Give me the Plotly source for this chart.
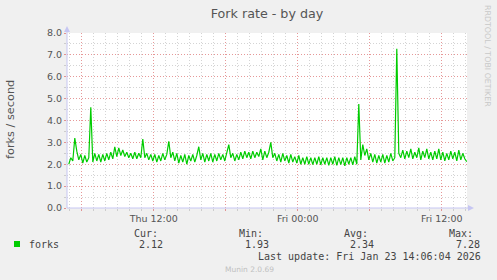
import pandas as pd
import plotly.graph_objects as go

# ---------------- data ----------------
end_time = pd.Timestamp("2026-01-23 14:06:04")
start_time = end_time - pd.Timedelta(seconds=120000)

forks = [
    2.0, 2.3, 2.15, 3.2, 2.6, 2.2, 2.45, 2.05, 2.4, 2.1,
    2.3, 4.6, 2.1, 2.5, 2.15, 2.45, 2.1, 2.45, 2.15, 2.5,
    2.2, 2.55, 2.25, 2.8, 2.35, 2.75, 2.4, 2.65, 2.35, 2.55,
    2.3, 2.5, 2.25, 2.55, 2.25, 2.5, 2.3, 3.15, 2.3, 2.5,
    2.2, 2.45, 2.15, 2.45, 2.1, 2.4, 2.15, 2.5, 2.2, 2.45,
    3.05, 2.3, 2.55, 2.15, 2.5, 2.05, 2.4, 2.1, 2.45, 2.0,
    2.4, 2.15, 2.45, 2.1, 2.4, 2.8, 2.2, 2.5, 2.1, 2.45,
    2.15, 2.5, 2.1, 2.45, 2.15, 2.5, 2.2, 2.45, 2.15, 2.5,
    2.9, 2.3, 2.5, 2.15, 2.45, 2.2, 2.55, 2.25, 2.6, 2.3,
    2.55, 2.25, 2.6, 2.3, 2.55, 2.35, 2.7, 2.2, 2.6, 2.3,
    2.55, 3.0, 2.3, 2.5, 2.15, 2.45, 2.1, 2.5, 2.15, 2.4,
    2.05, 2.45, 2.1, 2.35, 2.05, 2.4, 2.0, 2.3, 2.0, 2.35,
    2.0, 2.3, 1.98, 2.3, 2.0, 2.35, 1.97, 2.3, 2.0, 2.3,
    1.95, 2.3, 2.0, 2.35, 1.95, 2.3, 1.98, 2.3, 1.93, 2.3,
    2.0, 2.3, 1.97, 2.35, 2.0, 4.75, 2.2, 2.9, 2.4, 2.7,
    2.2, 2.5, 2.1, 2.45, 2.05, 2.4, 2.1, 2.45, 2.05, 2.4,
    2.1, 2.5, 2.15, 2.3, 7.28, 2.5, 2.3, 2.65, 2.25, 2.6,
    2.3, 2.7, 2.25, 2.55, 2.3, 2.75, 2.2, 2.6, 2.3, 2.7,
    2.25, 2.55, 2.2, 2.6, 2.25, 2.7, 2.2, 2.55, 2.15, 2.5,
    2.2, 2.6, 2.25, 2.55, 2.15, 2.65, 2.2, 2.5, 2.25, 2.12,
]
times = pd.date_range(end=pd.Timestamp("2026-01-23 14:05:00"), periods=len(forks), freq="10min")

x_tick_vals = pd.date_range("2026-01-22 06:00", "2026-01-23 12:00", freq="6h")
x_tick_text = ["", "Thu 12:00", "", "Fri 00:00", "", "Fri 12:00"]
y_tick_vals = [0, 1, 2, 3, 4, 5, 6, 7, 8]
y_tick_text = ["0.0", "1.0", "2.0", "3.0", "4.0", "5.0", "6.0", "7.0", "8.0"]

series_name = "forks"
stat_labels = ["Cur:", "Min:", "Avg:", "Max:"]
stat_values = ["2.12", "1.93", "2.34", "7.28"]
last_update = "Last update: Fri Jan 23 14:06:04 2026"

# ---------------- layout helpers ----------------
W, H = 497, 280
L, R, T, B = 67, 467, 33, 208


def px(xp):
    return (xp - L) / (R - L)


def py(yp):
    return (B - yp) / (B - T)


MAJOR = "rgba(255,70,70,0.42)"
MINOR = "rgba(160,160,160,0.45)"
AXIS = "#c6c6f2"
TXT = "#555555"

fig = go.Figure()
fig.add_trace(go.Scatter(x=times, y=forks, mode="lines",
                         line=dict(color="#00cc00", width=1.2), showlegend=False))

fig.update_layout(
    width=W, height=H,
    margin=dict(l=L, r=W - R, t=T, b=H - B),
    paper_bgcolor="#f0f0f0", plot_bgcolor="#ffffff",
    showlegend=False,
    font=dict(family="DejaVu Sans", color=TXT, size=9.5),
    title=dict(text="Fork rate - by day", x=0.5, xref="paper", xanchor="center",
               y=1 - 14 / H, yanchor="middle", font=dict(size=12.7, color=TXT)),
)

fig.update_xaxes(
    range=[start_time, end_time], type="date",
    tickmode="array", tickvals=x_tick_vals, ticktext=x_tick_text,
    showgrid=True, gridcolor=MAJOR, griddash="1px,2px", gridwidth=1,
    minor=dict(dtick=3600000, showgrid=True, gridcolor=MINOR, griddash="1px,2px",
               ticks="outside", ticklen=2, tickcolor=MINOR),
    ticks="outside", ticklen=2, tickcolor=MAJOR,
    showline=False, zeroline=False,
    tickfont=dict(size=9.5, color=TXT),
)
fig.update_yaxes(
    range=[0, 8], tickmode="array", tickvals=y_tick_vals, ticktext=y_tick_text,
    showgrid=True, gridcolor=MAJOR, griddash="1px,2px", gridwidth=1,
    minor=dict(dtick=0.5, showgrid=True, gridcolor=MINOR, griddash="1px,2px",
               ticks="outside", ticklen=2, tickcolor=MINOR),
    ticks="outside", ticklen=2, tickcolor=MAJOR,
    showline=False, zeroline=False,
    tickfont=dict(size=9.5, color=TXT),
)

shapes = []
# axis lines with arrows
shapes.append(dict(type="line", xref="paper", yref="paper", x0=0, x1=0, y0=0, y1=py(29),
                   line=dict(color=AXIS, width=1)))
shapes.append(dict(type="line", xref="paper", yref="paper", x0=0, x1=px(471), y0=0, y1=0,
                   line=dict(color=AXIS, width=1)))
shapes.append(dict(type="path", xref="paper", yref="paper",
                   path=f"M {px(67)} {py(26)} L {px(64)} {py(32)} L {px(70)} {py(32)} Z",
                   fillcolor=AXIS, line=dict(width=0)))
shapes.append(dict(type="path", xref="paper", yref="paper",
                   path=f"M {px(474)} {py(208)} L {px(468)} {py(205)} L {px(468)} {py(211)} Z",
                   fillcolor=AXIS, line=dict(width=0)))
# legend swatch
shapes.append(dict(type="rect", xref="paper", yref="paper",
                   x0=px(14), x1=px(20), y0=py(247), y1=py(241),
                   fillcolor="#00cc00", line=dict(width=0)))
fig.update_layout(shapes=shapes)

MONO = "DejaVu Sans Mono"
ann = []
ann.append(dict(text="forks / second", x=px(10), y=py(120), xref="paper", yref="paper",
                textangle=-90, showarrow=False, xanchor="center", yanchor="middle",
                font=dict(size=11.3, color=TXT)))
ann.append(dict(text="RRDTOOL / TOBI OETIKER", x=px(488), y=py(56), xref="paper", yref="paper",
                textangle=90, showarrow=False, xanchor="center", yanchor="middle",
                font=dict(size=7.9, color="#c8c8c8")))
ann.append(dict(text=series_name, x=px(27), y=py(244.5), xref="paper", yref="paper",
                showarrow=False, xanchor="left", yanchor="middle",
                font=dict(family=MONO, size=10, color="#444444")))
label_x = [131.5, 236.5, 342, 447]
value_x = [137, 243, 348, 454]
for lx, vx, lab, val in zip(label_x, value_x, stat_labels, stat_values):
    ann.append(dict(text=lab, x=px(lx), y=py(233), xref="paper", yref="paper",
                    showarrow=False, xanchor="left", yanchor="middle",
                    font=dict(family=MONO, size=10, color="#444444")))
    ann.append(dict(text=val, x=px(vx), y=py(244.5), xref="paper", yref="paper",
                    showarrow=False, xanchor="left", yanchor="middle",
                    font=dict(family=MONO, size=10, color="#444444")))
ann.append(dict(text=last_update, x=px(483), y=py(256), xref="paper", yref="paper",
                showarrow=False, xanchor="right", yanchor="middle",
                font=dict(family=MONO, size=10, color="#444444")))
ann.append(dict(text="Munin 2.0.69", x=px(249), y=py(269), xref="paper", yref="paper",
                showarrow=False, xanchor="center", yanchor="middle",
                font=dict(size=7.5, color="#c0c0c0")))
fig.update_layout(annotations=ann)

fig.write_html("out.html")
